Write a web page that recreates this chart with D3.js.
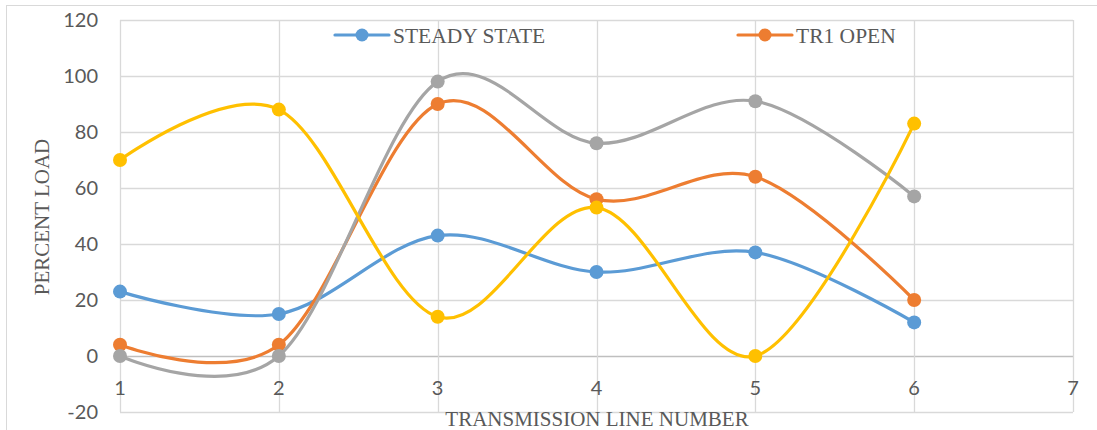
<!DOCTYPE html>
<html><head><meta charset="utf-8">
<script src="https://cdn.jsdelivr.net/npm/d3@7"></script>
<style>body{margin:0;background:#fff}</style>
</head><body>
<svg id="c" width="1097" height="430"></svg>
<script>
const xValues = [1, 2, 3, 4, 5, 6];
const steadyState = [23, 15, 43, 30, 37, 12];
const tr1Open = [4, 4, 90, 56, 64, 20];
const series3 = [0, 0, 98, 76, 91, 57];
const series4 = [70, 88, 14, 53, 0, 83];
const xTicks = [1, 2, 3, 4, 5, 6, 7];
const yTicks = [-20, 0, 20, 40, 60, 80, 100, 120];

const series = [
  {name: "STEADY STATE", values: steadyState, color: "#5B9BD5"},
  {name: "TR1 OPEN", values: tr1Open, color: "#ED7D31"},
  {name: "", values: series3, color: "#A5A5A5"},
  {name: "", values: series4, color: "#FFC000"}
];

const svg = d3.select("#c");
const L = 120, R = 1073, T = 20, B = 412;
const x = d3.scaleLinear().domain([1, 7]).range([L, R]);
const y = d3.scaleLinear().domain([-20, 120]).range([B, T]);

svg.append("rect").attr("x", 6.5).attr("y", 5.5).attr("width", 1100).attr("height", 430)
  .attr("fill", "#fff").attr("stroke", "#d9d9d9").attr("stroke-width", 1);

// gridlines
svg.append("g").selectAll("line").data(yTicks).join("line")
  .attr("x1", L).attr("x2", R).attr("y1", d => Math.round(y(d)) + 0.5).attr("y2", d => Math.round(y(d)) + 0.5)
  .attr("stroke", d => d === 0 ? "#bfbfbf" : "#d9d9d9").attr("stroke-width", 1.3);
svg.append("g").selectAll("line").data(xTicks).join("line")
  .attr("y1", T).attr("y2", B).attr("x1", d => Math.round(x(d)) + 0.5).attr("x2", d => Math.round(x(d)) + 0.5)
  .attr("stroke", "#d9d9d9").attr("stroke-width", 1.3);

// y tick labels
svg.append("g").selectAll("text").data(yTicks).join("text")
  .attr("x", 98).attr("y", d => y(d)).attr("dy", "0.35em").attr("text-anchor", "end")
  .attr("font-family", "Lato, 'Open Sans', sans-serif").attr("font-size", 20).attr("fill", "#595959")
  .text(d => d);
// x tick labels
svg.append("g").selectAll("text").data(xTicks).join("text")
  .attr("x", d => x(d)).attr("y", y(0) + 32).attr("dy", "0.35em").attr("text-anchor", "middle")
  .attr("font-family", "Lato, 'Open Sans', sans-serif").attr("font-size", 20).attr("fill", "#595959")
  .text(d => d);

// axis titles
svg.append("text").attr("x", 597).attr("y", 426).attr("text-anchor", "middle")
  .attr("font-family", "'Liberation Serif', serif").attr("font-size", 21).attr("fill", "#595959")
  .text("TRANSMISSION LINE NUMBER");
svg.append("text").attr("transform", `translate(49,${(T + B) / 2 + 1}) rotate(-90)`).attr("text-anchor", "middle")
  .attr("font-family", "'Liberation Serif', serif").attr("font-size", 21).attr("fill", "#595959")
  .text("PERCENT LOAD");

const line = d3.line().x((d, i) => x(xValues[i])).y(d => y(d)).curve(d3.curveCatmullRom.alpha(0));

series.forEach(s => {
  const g = svg.append("g");
  g.append("path").datum(s.values).attr("d", line).attr("fill", "none")
    .attr("stroke", s.color).attr("stroke-width", 3.2).attr("stroke-linecap", "round");
  g.selectAll("circle").data(s.values).join("circle")
    .attr("cx", (d, i) => x(xValues[i])).attr("cy", d => y(d)).attr("r", 7).attr("fill", s.color);
});

// legend
const legendItems = [
  {s: series[0], x0: 335},
  {s: series[1], x0: 738}
];
legendItems.forEach(li => {
  const g = svg.append("g");
  g.append("line").attr("x1", li.x0).attr("x2", li.x0 + 54).attr("y1", 35).attr("y2", 35)
    .attr("stroke", li.s.color).attr("stroke-width", 3.2).attr("stroke-linecap", "round");
  g.append("circle").attr("cx", li.x0 + 27).attr("cy", 35).attr("r", 6.5).attr("fill", li.s.color);
  g.append("text").attr("x", li.x0 + 58).attr("y", 35).attr("dy", "0.35em")
    .attr("font-family", "'Liberation Serif', serif").attr("font-size", 21.5).attr("fill", "#595959")
    .text(li.s.name);
});
</script>
</body></html>
